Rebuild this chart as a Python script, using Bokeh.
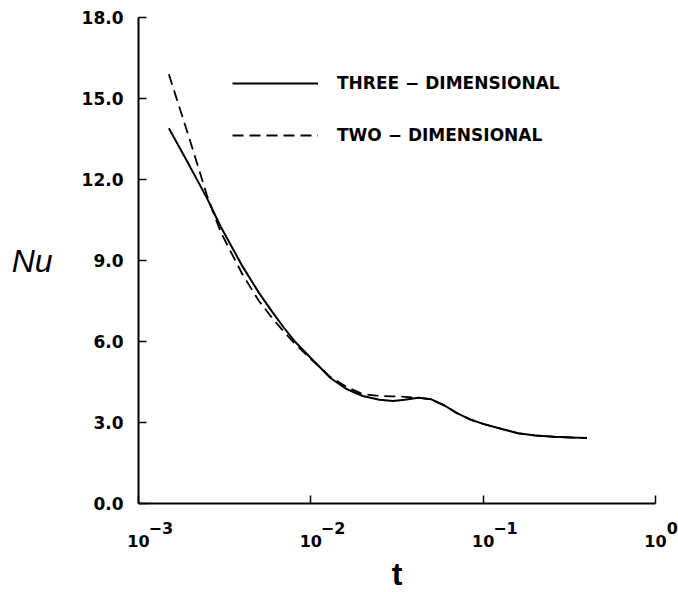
from bokeh.plotting import figure
from bokeh.models import Range1d, FixedTicker, Legend, LegendItem, LogAxis
from bokeh.embed import file_html
from bokeh.resources import INLINE

# ---- data ----
t_3d = [1.5e-3, 2.0e-3, 2.5e-3, 3.0e-3, 4.0e-3, 5.0e-3, 6.0e-3, 7.0e-3, 8.0e-3,
        1.0e-2, 1.3e-2, 1.6e-2, 2.0e-2, 2.5e-2, 3.0e-2, 3.5e-2, 4.2e-2, 5.0e-2,
        6.0e-2, 7.0e-2, 8.5e-2, 1.0e-1, 1.3e-1, 1.6e-1, 2.0e-1, 2.6e-1, 3.3e-1, 4.0e-1]
nu_3d = [13.9, 12.45, 11.3, 10.25, 8.8, 7.8, 7.08, 6.5, 6.03,
         5.39, 4.65, 4.25, 3.98, 3.84, 3.8, 3.84, 3.92, 3.86,
         3.62, 3.36, 3.1, 2.95, 2.75, 2.6, 2.52, 2.47, 2.44, 2.43]

t_2d = [1.5e-3, 2.0e-3, 2.5e-3, 3.0e-3, 4.0e-3, 5.0e-3, 6.0e-3, 7.0e-3, 8.0e-3,
        1.0e-2, 1.3e-2, 1.6e-2, 2.0e-2, 2.5e-2, 3.0e-2, 3.5e-2, 4.2e-2, 5.0e-2,
        6.0e-2, 7.0e-2, 8.5e-2, 1.0e-1, 1.3e-1, 1.6e-1, 2.0e-1, 2.6e-1, 3.3e-1, 4.0e-1]
nu_2d = [15.9, 13.4, 11.4, 10.05, 8.5, 7.5, 6.85, 6.35, 5.95,
         5.35, 4.68, 4.33, 4.05, 3.98, 3.97, 3.95, 3.92, 3.86,
         3.62, 3.36, 3.1, 2.95, 2.75, 2.6, 2.52, 2.47, 2.44, 2.43]

series_labels = ["THREE \u2212 DIMENSIONAL", "TWO \u2212 DIMENSIONAL"]

x_ticks = [1e-3, 1e-2, 1e-1, 1.0]
x_tick_base = ["10", "10", "10", "10"]
x_tick_exp = ["\u22123", "\u22122", "\u22121", "0"]

y_ticks = [0, 3, 6, 9, 12, 15, 18]
y_tick_labels = ["0.0", "3.0", "6.0", "9.0", "12.0", "15.0", "18.0"]

FONT = "DejaVu Sans"
FIG_SPACE = "\u2007"

p = figure(x_axis_type="log", x_range=Range1d(1e-3, 1.0), y_range=Range1d(0, 18),
           frame_width=517, frame_height=486,
           min_border_left=138, min_border_right=23, min_border_top=17, min_border_bottom=0,
           output_backend="svg", toolbar_location=None)

p.xgrid.visible = False
p.ygrid.visible = False
p.outline_line_color = None
p.background_fill_color = "white"
p.border_fill_color = "white"

def style_axis(ax, size="16px"):
    ax.axis_line_width = 2
    ax.axis_line_color = "black"
    ax.major_tick_in = 8
    ax.major_tick_out = 0
    ax.major_tick_line_width = 1.5
    ax.major_tick_line_color = "black"
    ax.minor_tick_line_color = None
    ax.major_label_text_font = FONT
    ax.major_label_text_font_style = "bold"
    ax.major_label_text_font_size = size
    ax.major_label_text_color = "black"

# x axis nearest the frame: axis line, ticks and the exponents (superscripts);
# labels are centred on the tick, so leading figure spaces push the exponent to the right of "10"
xa = p.xaxis[0]
style_axis(xa)
xa.ticker = FixedTicker(ticks=x_ticks, minor_ticks=[])
xa.major_label_overrides = {float(v): FIG_SPACE * (len(e) + 2) + e for v, e in zip(x_ticks, x_tick_exp)}
xa.major_label_standoff = 15

# second x axis below: the base "10" and the axis title
xb = LogAxis(ticker=FixedTicker(ticks=x_ticks, minor_ticks=[]))
style_axis(xb)
xb.axis_line_color = None
xb.major_tick_line_color = None
xb.major_tick_in = 0
xb.major_label_overrides = {float(v): b for v, b in zip(x_ticks, x_tick_base)}
xb.major_label_standoff = -6
xb.axis_label = "t"
xb.axis_label_text_font = "Liberation Sans"
xb.axis_label_text_font_style = "bold"
xb.axis_label_text_font_size = "32px"
xb.axis_label_standoff = 6
xb.axis_label_text_color = "black"
p.add_layout(xb, "below")

ya = p.yaxis[0]
style_axis(ya, "17px")
ya.ticker = FixedTicker(ticks=y_ticks, minor_ticks=[])
ya.major_label_overrides = {v: s for v, s in zip(y_ticks, y_tick_labels)}
ya.major_label_standoff = 15
ya.axis_label = "Nu"
ya.axis_label_orientation = "horizontal"
ya.axis_label_text_font = "Liberation Sans"
ya.axis_label_text_font_style = "italic"
ya.axis_label_text_font_size = "32px"
ya.axis_label_standoff = 26
ya.axis_label_text_color = "black"

r3 = p.line(t_3d, nu_3d, line_width=2, color="black")
r2 = p.line(t_2d, nu_2d, line_width=1.8, color="black", line_dash="11 6")

legend = Legend(items=[LegendItem(label=series_labels[0], renderers=[r3]),
                       LegendItem(label=series_labels[1], renderers=[r2])],
                location=(94, 358), glyph_width=86, glyph_height=20, label_standoff=19,
                spacing=32, padding=0, margin=0, border_line_color=None,
                background_fill_alpha=0, label_text_font=FONT,
                label_text_font_style="bold", label_text_font_size="17px",
                label_text_color="black")
p.add_layout(legend)

open("out.html", "w").write(file_html(p, INLINE))
